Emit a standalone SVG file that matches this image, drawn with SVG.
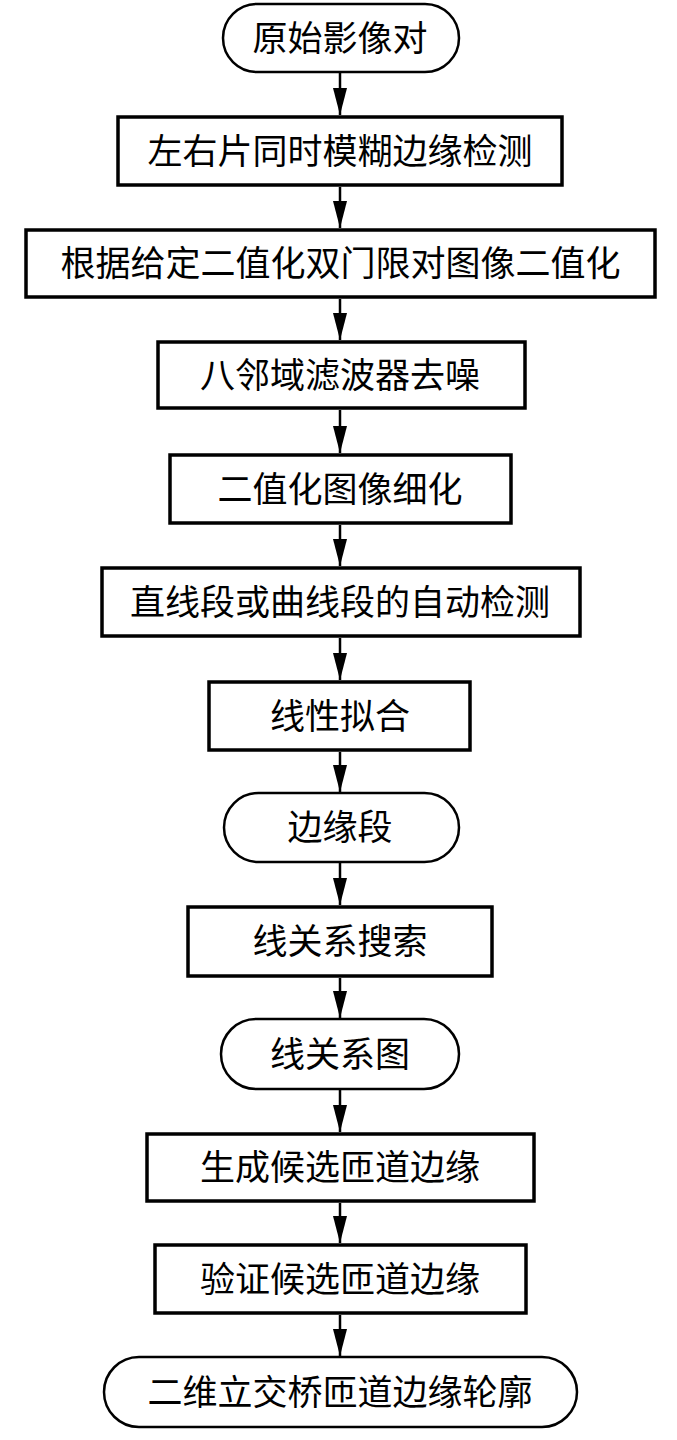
<svg xmlns="http://www.w3.org/2000/svg" width="677" height="1440" viewBox="0 0 677 1440">
<style>
.box{fill:#fff;stroke:#000;stroke-width:3.5}
.term{fill:#fff;stroke:#000;stroke-width:2.5}
.lbl{font-family:"Liberation Serif","Noto Sans CJK SC",serif;font-size:35px;fill:#000;text-anchor:middle;dominant-baseline:central}
.conn{stroke:#000;stroke-width:2.5;fill:none;marker-end:url(#ah)}
</style>
<defs>
<marker id="ah" markerUnits="userSpaceOnUse" markerWidth="27" markerHeight="14" refX="27" refY="7" orient="auto" viewBox="0 0 27 14">
<polygon points="0,0 27,7 0,14" fill="#000"/>
</marker>
</defs>
<rect width="677" height="1440" fill="#fff"/>
<g id="connectors">
<line class="conn" x1="340" y1="73" x2="340" y2="115"/>
<line class="conn" x1="340" y1="187" x2="340" y2="228"/>
<line class="conn" x1="340" y1="299" x2="340" y2="340"/>
<line class="conn" x1="340" y1="410" x2="340" y2="453"/>
<line class="conn" x1="340" y1="525" x2="340" y2="566"/>
<line class="conn" x1="340" y1="638" x2="340" y2="680"/>
<line class="conn" x1="340" y1="752" x2="340" y2="792"/>
<line class="conn" x1="340" y1="863" x2="340" y2="905"/>
<line class="conn" x1="340" y1="978" x2="340" y2="1018"/>
<line class="conn" x1="340" y1="1090" x2="340" y2="1132"/>
<line class="conn" x1="340" y1="1203" x2="340" y2="1243"/>
<line class="conn" x1="340" y1="1315" x2="340" y2="1356"/>
</g>
<g id="n1"><rect class="term" x="223" y="4" width="236" height="68" rx="34" ry="34"/><text class="lbl" x="340" y="39">原始影像对</text></g>
<g id="n2"><rect class="box" x="118" y="117" width="444" height="68"/><text class="lbl" x="340" y="152">左右片同时模糊边缘检测</text></g>
<g id="n3"><rect class="box" x="26" y="230" width="629" height="67"/><text class="lbl" x="340.5" y="264">根据给定二值化双门限对图像二值化</text></g>
<g id="n4"><rect class="box" x="158" y="342" width="367" height="66"/><text class="lbl" x="340" y="376">八邻域滤波器去噪</text></g>
<g id="n5"><rect class="box" x="170" y="455" width="341" height="68"/><text class="lbl" x="340" y="490">二值化图像细化</text></g>
<g id="n6"><rect class="box" x="102" y="568" width="478" height="68"/><text class="lbl" x="340" y="603">直线段或曲线段的自动检测</text></g>
<g id="n7"><rect class="box" x="209" y="682" width="261" height="68"/><text class="lbl" x="340" y="717">线性拟合</text></g>
<g id="n8"><rect class="term" x="224" y="793" width="235" height="69" rx="34.5" ry="34.5"/><text class="lbl" x="340" y="828">边缘段</text></g>
<g id="n9"><rect class="box" x="188" y="907" width="304" height="69"/><text class="lbl" x="340" y="942">线关系搜索</text></g>
<g id="n10"><rect class="term" x="221" y="1019" width="238" height="70" rx="35" ry="35"/><text class="lbl" x="340" y="1055">线关系图</text></g>
<g id="n11"><rect class="box" x="147" y="1134" width="387" height="67"/><text class="lbl" x="340" y="1168">生成候选匝道边缘</text></g>
<g id="n12"><rect class="box" x="155" y="1245" width="371" height="68"/><text class="lbl" x="340" y="1280">验证候选匝道边缘</text></g>
<g id="n13"><rect class="term" x="104" y="1357" width="473" height="70" rx="35" ry="35"/><text class="lbl" x="340" y="1393">二维立交桥匝道边缘轮廓</text></g>
</svg>
